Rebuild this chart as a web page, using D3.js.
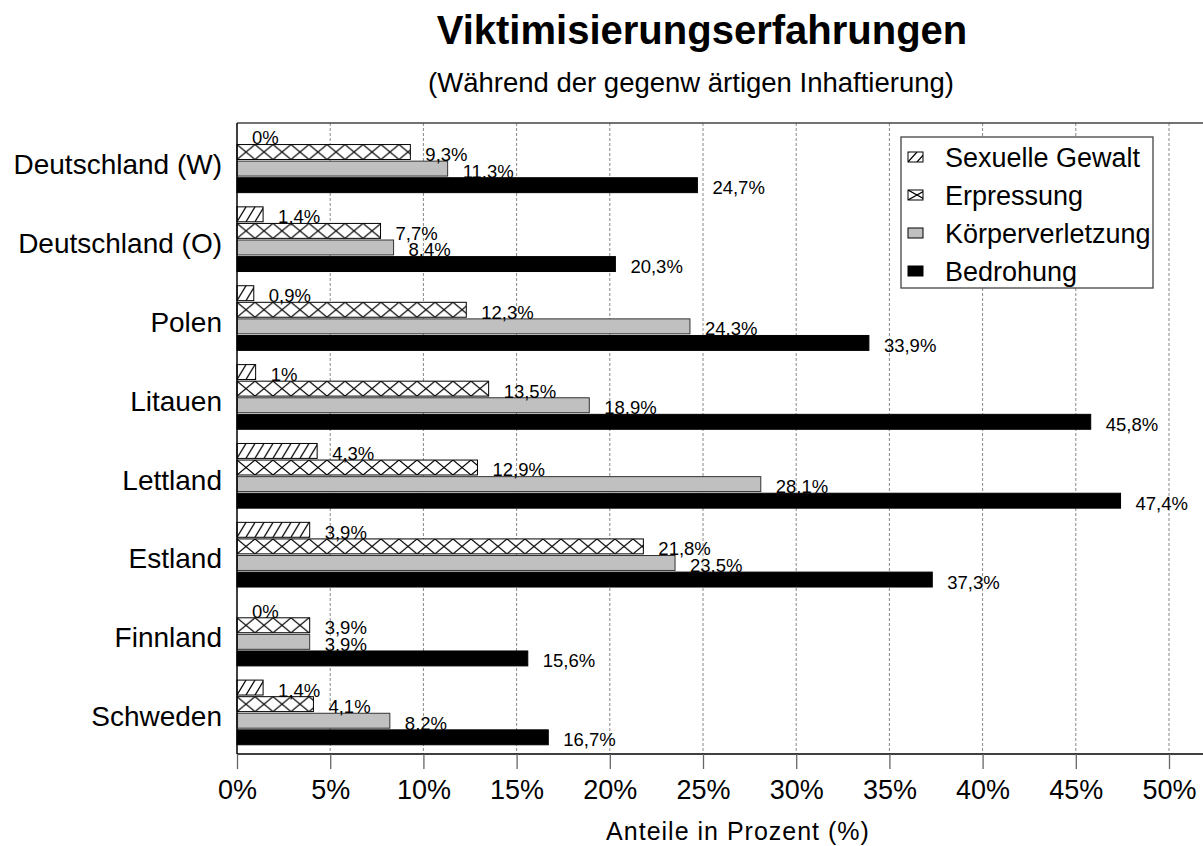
<!DOCTYPE html>
<html>
<head>
<meta charset="utf-8">
<script src="https://cdn.jsdelivr.net/npm/d3@7"></script>
<style>
body { margin: 0; background: #fff; }
svg { display: block; font-family: "Liberation Sans", Arial, sans-serif; }
</style>
</head>
<body>
<script>
const countries = ["Deutschland (W)", "Deutschland (O)", "Polen", "Litauen", "Lettland", "Estland", "Finnland", "Schweden"];
const seriesNames = ["Sexuelle Gewalt", "Erpressung", "Körperverletzung", "Bedrohung"];
const sexuelleGewalt = [0, 1.4, 0.9, 1, 4.3, 3.9, 0, 1.4];
const erpressung = [9.3, 7.7, 12.3, 13.5, 12.9, 21.8, 3.9, 4.1];
const koerperverletzung = [11.3, 8.4, 24.3, 18.9, 28.1, 23.5, 3.9, 8.2];
const bedrohung = [24.7, 20.3, 33.9, 45.8, 47.4, 37.3, 15.6, 16.7];
const xTicks = [0, 5, 10, 15, 20, 25, 30, 35, 40, 45, 50];

const width = 1203, height = 846;
const margin = ({top: 123, right: 0, bottom: 92, left: 237});

const seriesValues = [sexuelleGewalt, erpressung, koerperverletzung, bedrohung];
const rows = [];
countries.forEach((c, i) => seriesNames.forEach((s, j) => rows.push({country: c, series: s, idx: j, value: seriesValues[j][i]})));

const x = d3.scaleLinear([0, 50], [margin.left, 1169]);
const y = d3.scaleBand(countries, [margin.top, height - margin.bottom])
    .paddingInner(0.18).paddingOuter(0.09).align(0.35);
const ySub = d3.scaleBand(seriesNames, [0, y.bandwidth()]).paddingInner(0.1);

const svg = d3.select("body").append("svg")
    .attr("width", width)
    .attr("height", height);

const defs = svg.append("defs");
let pid = 0;

// one pattern per hatched rect so the hatch lines up with the rect edges
function fillFor(idx, bx, by, bw, bh) {
    if (idx === 2) return "#c0c0c0";
    if (idx === 3) return "#000";
    const id = "p" + (pid++);
    const tile = idx === 0 ? 9 : 18;
    const p = defs.append("pattern")
        .attr("id", id)
        .attr("patternUnits", "userSpaceOnUse")
        .attr("x", bx).attr("y", by)
        .attr("width", tile).attr("height", bh);
    p.append("rect").attr("width", tile).attr("height", bh).attr("fill", "#fff");
    const d = idx === 0
        ? `M${-tile},${bh}L0,0M0,${bh}L${tile},0M${tile},${bh}L${2 * tile},0`
        : `M0,0L${tile},${bh}M${tile},0L0,${bh}`;
    p.append("path").attr("d", d).attr("stroke", "#000").attr("stroke-width", 1.2).attr("fill", "none");
    return `url(#${id})`;
}

// grid
svg.append("g")
    .selectAll("line")
    .data(xTicks.slice(1))
    .join("line")
    .attr("x1", d => x(d)).attr("x2", d => x(d))
    .attr("y1", margin.top).attr("y2", height - margin.bottom)
    .attr("stroke", "#888")
    .attr("stroke-dasharray", "3,2");

// bars
svg.append("g")
    .selectAll("rect")
    .data(rows)
    .join("rect")
    .attr("x", x(0))
    .attr("y", d => y(d.country) + ySub(d.series))
    .attr("width", d => x(d.value) - x(0))
    .attr("height", ySub.bandwidth())
    .attr("fill", d => fillFor(d.idx, x(0), y(d.country) + ySub(d.series), x(d.value) - x(0), ySub.bandwidth()))
    .attr("stroke", d => d.idx === 2 ? "#333" : "#000")
    .attr("stroke-width", 1);

// value labels
svg.append("g")
    .attr("font-size", 18.5)
    .selectAll("text")
    .data(rows)
    .join("text")
    .attr("x", d => x(d.value) + 15)
    .attr("y", d => y(d.country) + ySub(d.series) + ySub.bandwidth() + 1.5)
    .text(d => String(d.value).replace(".", ",") + "%");

// frame: top line, left axis, bottom axis (chart is cut off on the right)
svg.append("g")
    .attr("stroke", "#000")
    .attr("stroke-width", 1.5)
    .call(g => g.append("line").attr("x1", margin.left).attr("x2", width).attr("y1", margin.top).attr("y2", margin.top).attr("stroke", "#444"))
    .call(g => g.append("line").attr("x1", margin.left).attr("x2", margin.left).attr("y1", margin.top).attr("y2", height - margin.bottom))
    .call(g => g.append("line").attr("x1", margin.left).attr("x2", width).attr("y1", height - margin.bottom).attr("y2", height - margin.bottom));

// x axis
svg.append("g")
    .attr("transform", `translate(0,${height - margin.bottom})`)
    .call(d3.axisBottom(x).tickValues(xTicks).tickFormat(d => d + "%").tickSize(15).tickPadding(11))
    .call(g => g.select(".domain").remove())
    .call(g => g.selectAll(".tick line").attr("stroke", "#666").attr("stroke-width", 1.3))
    .call(g => g.selectAll(".tick text").attr("font-size", 27).attr("font-family", null).attr("fill", "#000"));

svg.append("text")
    .attr("x", 738)
    .attr("y", 840)
    .attr("text-anchor", "middle")
    .attr("font-size", 25)
    .attr("letter-spacing", 1)
    .text("Anteile in Prozent (%)");

// category labels
svg.append("g")
    .attr("font-size", 28)
    .attr("text-anchor", "end")
    .selectAll("text")
    .data(countries)
    .join("text")
    .attr("x", 222)
    .attr("y", d => y(d) + y.bandwidth() / 2 + 4)
    .attr("dy", "0.35em")
    .text(d => d);

// titles
svg.append("text")
    .attr("x", 702)
    .attr("y", 44)
    .attr("text-anchor", "middle")
    .attr("font-size", 40)
    .attr("font-weight", "bold")
    .text("Viktimisierungserfahrungen");

svg.append("text")
    .attr("x", 691)
    .attr("y", 92)
    .attr("text-anchor", "middle")
    .attr("font-size", 27.5)
    .text("(Während der gegenw ärtigen Inhaftierung)");

// legend
const legend = svg.append("g");
legend.append("rect")
    .attr("x", 901).attr("y", 137)
    .attr("width", 252).attr("height", 151)
    .attr("fill", "#fff").attr("stroke", "#444").attr("stroke-width", 1.3);

const legendY = d3.scalePoint(seriesNames, [158, 272]);
legend.selectAll("g")
    .data(seriesNames)
    .join("g")
    .call(g => g.append("rect")
        .attr("x", 908)
        .attr("y", d => legendY(d) - 6)
        .attr("width", 15).attr("height", 10)
        .attr("fill", (d, i) => fillFor(i, 908, legendY(d) - 6, 15, 10))
        .attr("stroke", "#000"))
    .call(g => g.append("text")
        .attr("x", 945)
        .attr("y", d => legendY(d))
        .attr("dy", "0.35em")
        .attr("font-size", 27)
        .text(d => d));
</script>
</body>
</html>
